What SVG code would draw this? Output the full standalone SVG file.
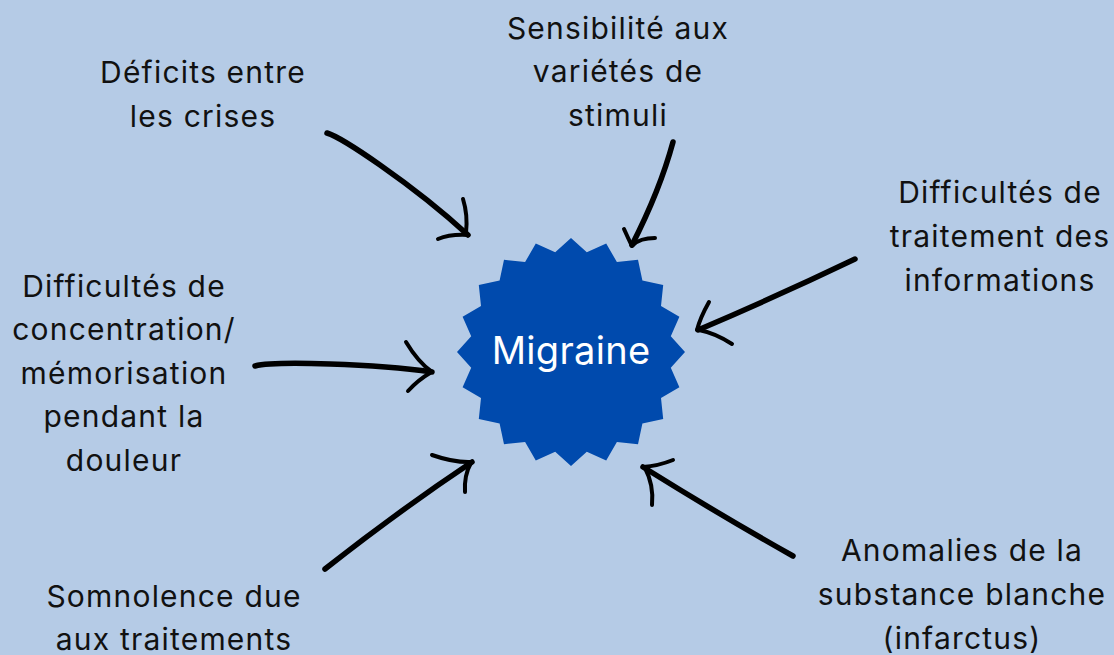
<svg xmlns="http://www.w3.org/2000/svg" width="1114" height="655" viewBox="0 0 1114 655">
<style>
.lbl{font-family:Inter,"Noto Sans","Liberation Sans",sans-serif;font-size:30px;letter-spacing:1.2px;fill:#111;text-anchor:middle}
.shaft{fill:none;stroke:#000;stroke-width:5.5;stroke-linecap:round;stroke-linejoin:round}
.wing{fill:none;stroke:#000;stroke-width:4;stroke-linecap:round;stroke-linejoin:round}
</style>
<rect width="1114" height="655" fill="#B5CBE6"/>
<g id="migraine">
<polygon transform="translate(571,352)" fill="#004AAD" points="0,-114 15.8,-99.8 35.2,-108.4 45.9,-90 67,-92.2 71.4,-71.4 92.2,-67 90,-45.9 108.4,-35.2 99.8,-15.8 114,0 99.8,15.8 108.4,35.2 90,45.9 92.2,67 71.4,71.4 67,92.2 45.9,90 35.2,108.4 15.8,99.8 0,114 -15.8,99.8 -35.2,108.4 -45.9,90 -67,92.2 -71.4,71.4 -92.2,67 -90,45.9 -108.4,35.2 -99.8,15.8 -114,0 -99.8,-15.8 -108.4,-35.2 -90,-45.9 -92.2,-67 -71.4,-71.4 -67,-92.2 -45.9,-90 -35.2,-108.4 -15.8,-99.8"/>
<text x="571" y="364" font-family="Inter,'Noto Sans','Liberation Sans',sans-serif" font-size="38" letter-spacing="0.3" fill="#fff" text-anchor="middle">Migraine</text>
</g>
<g id="deficits">
<text class="lbl" x="203" y="83">Déficits entre</text>
<text class="lbl" x="203" y="127">les crises</text>
</g>
<g id="sensibilite">
<text class="lbl" x="618" y="39">Sensibilité aux</text>
<text class="lbl" x="618" y="82">variétés de</text>
<text class="lbl" x="618" y="126">stimuli</text>
</g>
<g id="traitement">
<text class="lbl" x="1000" y="203">Difficultés de</text>
<text class="lbl" x="1000" y="247">traitement des</text>
<text class="lbl" x="1000" y="291">informations</text>
</g>
<g id="concentration">
<text class="lbl" x="124" y="297">Difficultés de</text>
<text class="lbl" x="124" y="340">concentration/</text>
<text class="lbl" x="124" y="384">mémorisation</text>
<text class="lbl" x="124" y="427">pendant la</text>
<text class="lbl" x="124" y="471">douleur</text>
</g>
<g id="somnolence">
<text class="lbl" x="174" y="607">Somnolence due</text>
<text class="lbl" x="174" y="650">aux traitements</text>
</g>
<g id="anomalies">
<text class="lbl" x="962" y="561">Anomalies de la</text>
<text class="lbl" x="962" y="605">substance blanche</text>
<text class="lbl" x="962" y="649">(infarctus)</text>
</g>
<g id="connectors">
<path class="shaft" d="M327,133 Q340,137 380,165 Q430,200 468,235"/>
<path class="wing" d="M463,199 Q468,215 466,233"/>
<path class="wing" d="M438,239 Q450,234 468,235"/>
<path class="shaft" d="M673,142 Q660,190 632,245"/>
<path class="wing" d="M624,229 Q628,238 632,246"/>
<path class="wing" d="M655,238 Q640,238 633,245"/>
<path class="shaft" d="M855,259 Q780,295 698,330"/>
<path class="wing" d="M709,302 Q700,318 697,330"/>
<path class="wing" d="M732,344 Q715,333 699,330"/>
<path class="shaft" d="M255,366 Q270,362 330,364 Q390,366 432,372"/>
<path class="wing" d="M406,342 Q418,362 432,372"/>
<path class="wing" d="M408,391 Q418,380 430,373"/>
<path class="shaft" d="M325,569 Q400,510 472,462"/>
<path class="wing" d="M432,455 Q455,463 472,462"/>
<path class="wing" d="M465,492 Q464,475 471,463"/>
<path class="shaft" d="M793,556 Q720,515 643,467"/>
<path class="wing" d="M673,460 Q658,466 643,467"/>
<path class="wing" d="M652,505 Q654,485 645,468"/>
</g>
</svg>
